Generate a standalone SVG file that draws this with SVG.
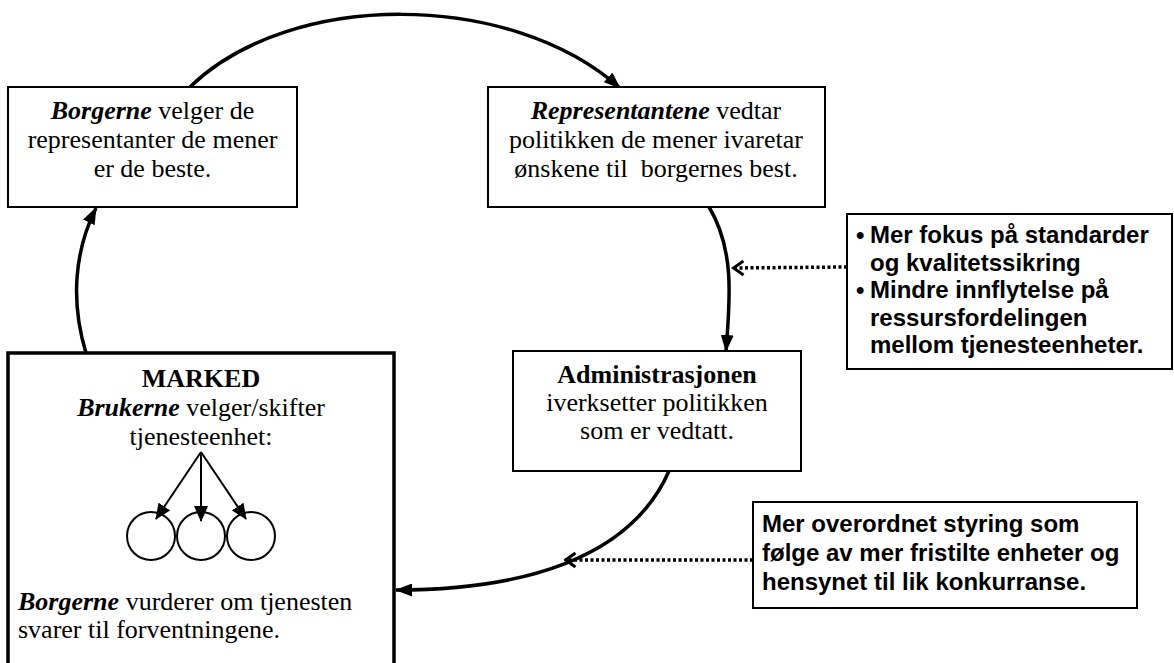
<svg xmlns="http://www.w3.org/2000/svg" width="1174" height="663" viewBox="0 0 1174 663">
<style>
.box{fill:#fff;stroke:#000;stroke-width:2}
.thick{fill:#fff;stroke:#000;stroke-width:3.5}
.t{font-family:"Liberation Serif","Times New Roman",serif;font-size:26px;fill:#000}
.c{text-anchor:middle}
.bi{font-weight:bold;font-style:italic}
.b{font-weight:bold}
.a{font-family:"Liberation Sans",Arial,sans-serif;font-size:24px;font-weight:bold;fill:#000}
.flow{fill:none;stroke:#000;stroke-width:3.5}
.dot{fill:none;stroke:#000;stroke-width:3.5;stroke-dasharray:3 2.5}
.thin{fill:none;stroke:#000;stroke-width:2}
</style>
<defs>
<marker id="ah" markerUnits="userSpaceOnUse" markerWidth="17" markerHeight="13" refX="16" refY="6.5" orient="auto"><path d="M0,0 L17,6.5 L0,13 z" fill="#000"/></marker>
<marker id="sh" markerUnits="userSpaceOnUse" markerWidth="16" markerHeight="14" refX="15" refY="7" orient="auto"><path d="M0,0 L16,7 L0,14 z" fill="#000"/></marker>
<marker id="oh" markerUnits="userSpaceOnUse" markerWidth="14" markerHeight="18" refX="12.5" refY="9" orient="auto"><path d="M2,2 L12,9 L2,16" fill="none" stroke="#000" stroke-width="3" stroke-linejoin="miter"/></marker>
</defs>
<g id="connectors">
<path class="flow" d="M190,87 C290,-10 510,-10 620,88" marker-end="url(#ah)"/>
<path class="flow" d="M709,207 C735,250 730,300 726,351" marker-end="url(#ah)"/>
<path class="flow" d="M669,471 C630,560 520,590 396,590" marker-end="url(#ah)"/>
<path class="flow" d="M86,353 C70,300 75,250 96,208" marker-end="url(#ah)"/>
<path class="dot" d="M847,267 L733,268" marker-end="url(#oh)"/>
<path class="dot" d="M753,560 L565,560" marker-end="url(#oh)"/>
</g>
<g id="borgerne">
<rect class="box" x="8" y="87" width="289" height="120"/>
<text class="t c" x="152.5" y="119"><tspan class="bi">Borgerne</tspan> velger de</text>
<text class="t c" x="152.5" y="148">representanter de mener</text>
<text class="t c" x="152.5" y="177">er de beste.</text>
</g>
<g id="representantene">
<rect class="box" x="488" y="87" width="337" height="120"/>
<text class="t c" x="656" y="119"><tspan class="bi">Representantene</tspan> vedtar</text>
<text class="t c" x="656" y="148">politikken de mener ivaretar</text>
<text class="t c" x="656" y="177">ønskene til&#160; borgernes best.</text>
</g>
<g id="administrasjonen">
<rect class="box" x="513" y="351" width="288" height="120"/>
<text class="t c b" x="657" y="383">Administrasjonen</text>
<text class="t c" x="657" y="411">iverksetter politikken</text>
<text class="t c" x="657" y="439">som er vedtatt.</text>
</g>
<g id="marked">
<rect class="thick" x="8" y="353" width="386" height="320"/>
<text class="t c b" x="201" y="387">MARKED</text>
<text class="t c" x="201" y="416"><tspan class="bi">Brukerne</tspan> velger/skifter</text>
<text class="t c" x="201" y="445">tjenesteenhet:</text>
<circle class="thin" cx="151" cy="536" r="24"/>
<circle class="thin" cx="201" cy="536" r="24"/>
<circle class="thin" cx="251" cy="536" r="24"/>
<path class="thin" d="M201,452 L156,519" marker-end="url(#sh)"/>
<path class="thin" d="M201,452 L201,521" marker-end="url(#sh)"/>
<path class="thin" d="M201,452 L246,519" marker-end="url(#sh)"/>
<text class="t" x="18" y="610"><tspan class="bi">Borgerne</tspan> vurderer om tjenesten</text>
<text class="t" x="18" y="638">svarer til forventningene.</text>
</g>
<g id="endringer-politikk">
<rect class="box" x="847" y="214" width="325" height="155"/>
<text class="a" x="856" y="243">•</text>
<text class="a" x="870" y="243">Mer fokus på standarder</text>
<text class="a" x="870" y="270.5">og kvalitetssikring</text>
<text class="a" x="856" y="298">•</text>
<text class="a" x="870" y="298">Mindre innflytelse på</text>
<text class="a" x="870" y="325.5">ressursfordelingen</text>
<text class="a" x="870" y="353">mellom tjenesteenheter.</text>
</g>
<g id="endringer-administrasjon">
<rect class="box" x="753" y="502" width="384" height="106"/>
<text class="a" x="762" y="532">Mer overordnet styring som</text>
<text class="a" x="762" y="561">følge av mer fristilte enheter og</text>
<text class="a" x="762" y="590">hensynet til lik konkurranse.</text>
</g>
</svg>
